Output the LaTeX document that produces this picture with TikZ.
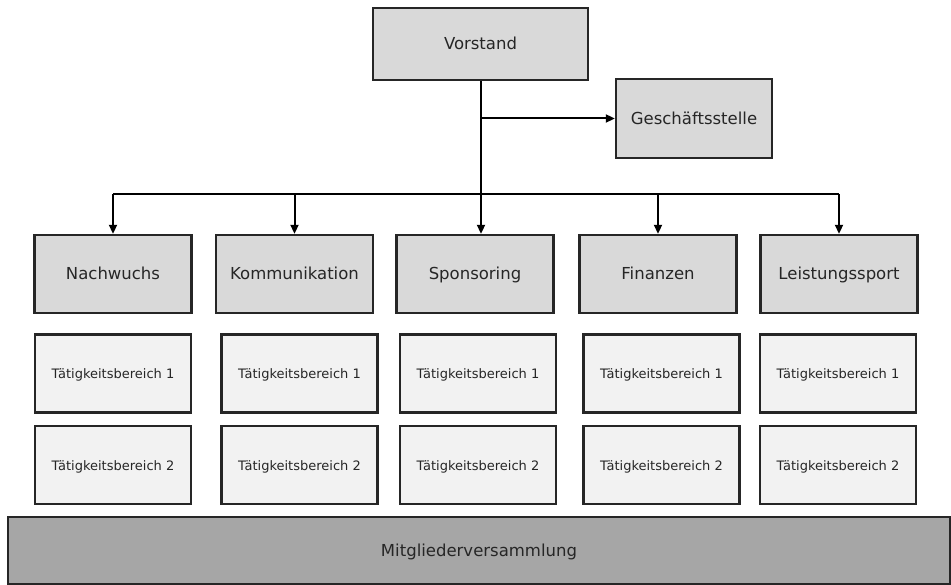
\documentclass[tikz,border=0pt]{standalone}
\usepackage{fontspec}
\setmainfont{DejaVu Sans}
\usetikzlibrary{arrows.meta}
\definecolor{headgray}{HTML}{D9D9D9}
\definecolor{taskgray}{HTML}{F2F2F2}
\definecolor{basegray}{HTML}{A6A6A6}
\definecolor{textgray}{HTML}{262626}
\tikzset{
	box/.style={draw=black!85, line width=2.4pt, inner sep=0pt, text=textgray},
	headbox/.style={box, fill=headgray, minimum width=157pt, minimum height=78pt, font=\fontsize{16.5}{19}\selectfont, text height=12pt, text depth=0pt},
	taskbox/.style={box, fill=taskgray, minimum width=156pt, minimum height=78pt, font=\fontsize{13}{15}\selectfont, text height=11pt, text depth=0pt},
	link/.style={line width=2pt},
	arrow/.style={link, -{Triangle[length=9pt,width=8pt]}}
}
\begin{document}
\begin{tikzpicture}[x=1pt,y=-1pt]
	\useasboundingbox (0,0) rectangle (951,585);
	% Vorstand and Geschaeftsstelle %
	\node [headbox, minimum width=215pt, minimum height=72pt] (vorstand) at (480.5,44) {Vorstand};
	\node [headbox, minimum width=156pt, minimum height=79pt] (geschaeft) at (694,118.5) {Geschäftsstelle};
	% Ressorts %
	\node [headbox] (nachwuchs) at (113,274) {Nachwuchs};
	\node [headbox] (kommunikation) at (294.5,274) {Kommunikation};
	\node [headbox] (sponsoring) at (475,274) {Sponsoring};
	\node [headbox] (finanzen) at (658,274) {Finanzen};
	\node [headbox] (leistung) at (839,274) {Leistungssport};
	% Taetigkeitsbereiche %
	\node [taskbox] (nachwuchsA) at (113,373.5) {Tätigkeitsbereich 1};
	\node [taskbox] (kommunikationA) at (299.5,373.5) {Tätigkeitsbereich 1};
	\node [taskbox] (sponsoringA) at (478,373.5) {Tätigkeitsbereich 1};
	\node [taskbox] (finanzenA) at (661.5,373.5) {Tätigkeitsbereich 1};
	\node [taskbox] (leistungA) at (838,373.5) {Tätigkeitsbereich 1};
	\node [taskbox] (nachwuchsB) at (113,465) {Tätigkeitsbereich 2};
	\node [taskbox] (kommunikationB) at (299.5,465) {Tätigkeitsbereich 2};
	\node [taskbox] (sponsoringB) at (478,465) {Tätigkeitsbereich 2};
	\node [taskbox] (finanzenB) at (661.5,465) {Tätigkeitsbereich 2};
	\node [taskbox] (leistungB) at (838,465) {Tätigkeitsbereich 2};
	% Mitgliederversammlung %
	\node [headbox, fill=basegray, minimum width=942pt, minimum height=67pt] (mitglieder) at (479,550.5) {Mitgliederversammlung};
	% Connectors %
	\coordinate (bus) at (481,194);
	\draw [arrow] (vorstand.south -| bus) -- (sponsoring.north -| bus);
	\draw [arrow] (vorstand.south |- geschaeft.west) -- (geschaeft.west);
	\draw [link] (nachwuchs.north |- bus) -- (leistung.north |- bus);
	\draw [arrow] (nachwuchs.north |- bus) -- (nachwuchs.north);
	\draw [arrow] (kommunikation.north |- bus) -- (kommunikation.north);
	\draw [arrow] (finanzen.north |- bus) -- (finanzen.north);
	\draw [arrow] (leistung.north |- bus) -- (leistung.north);
\end{tikzpicture}
\end{document}
